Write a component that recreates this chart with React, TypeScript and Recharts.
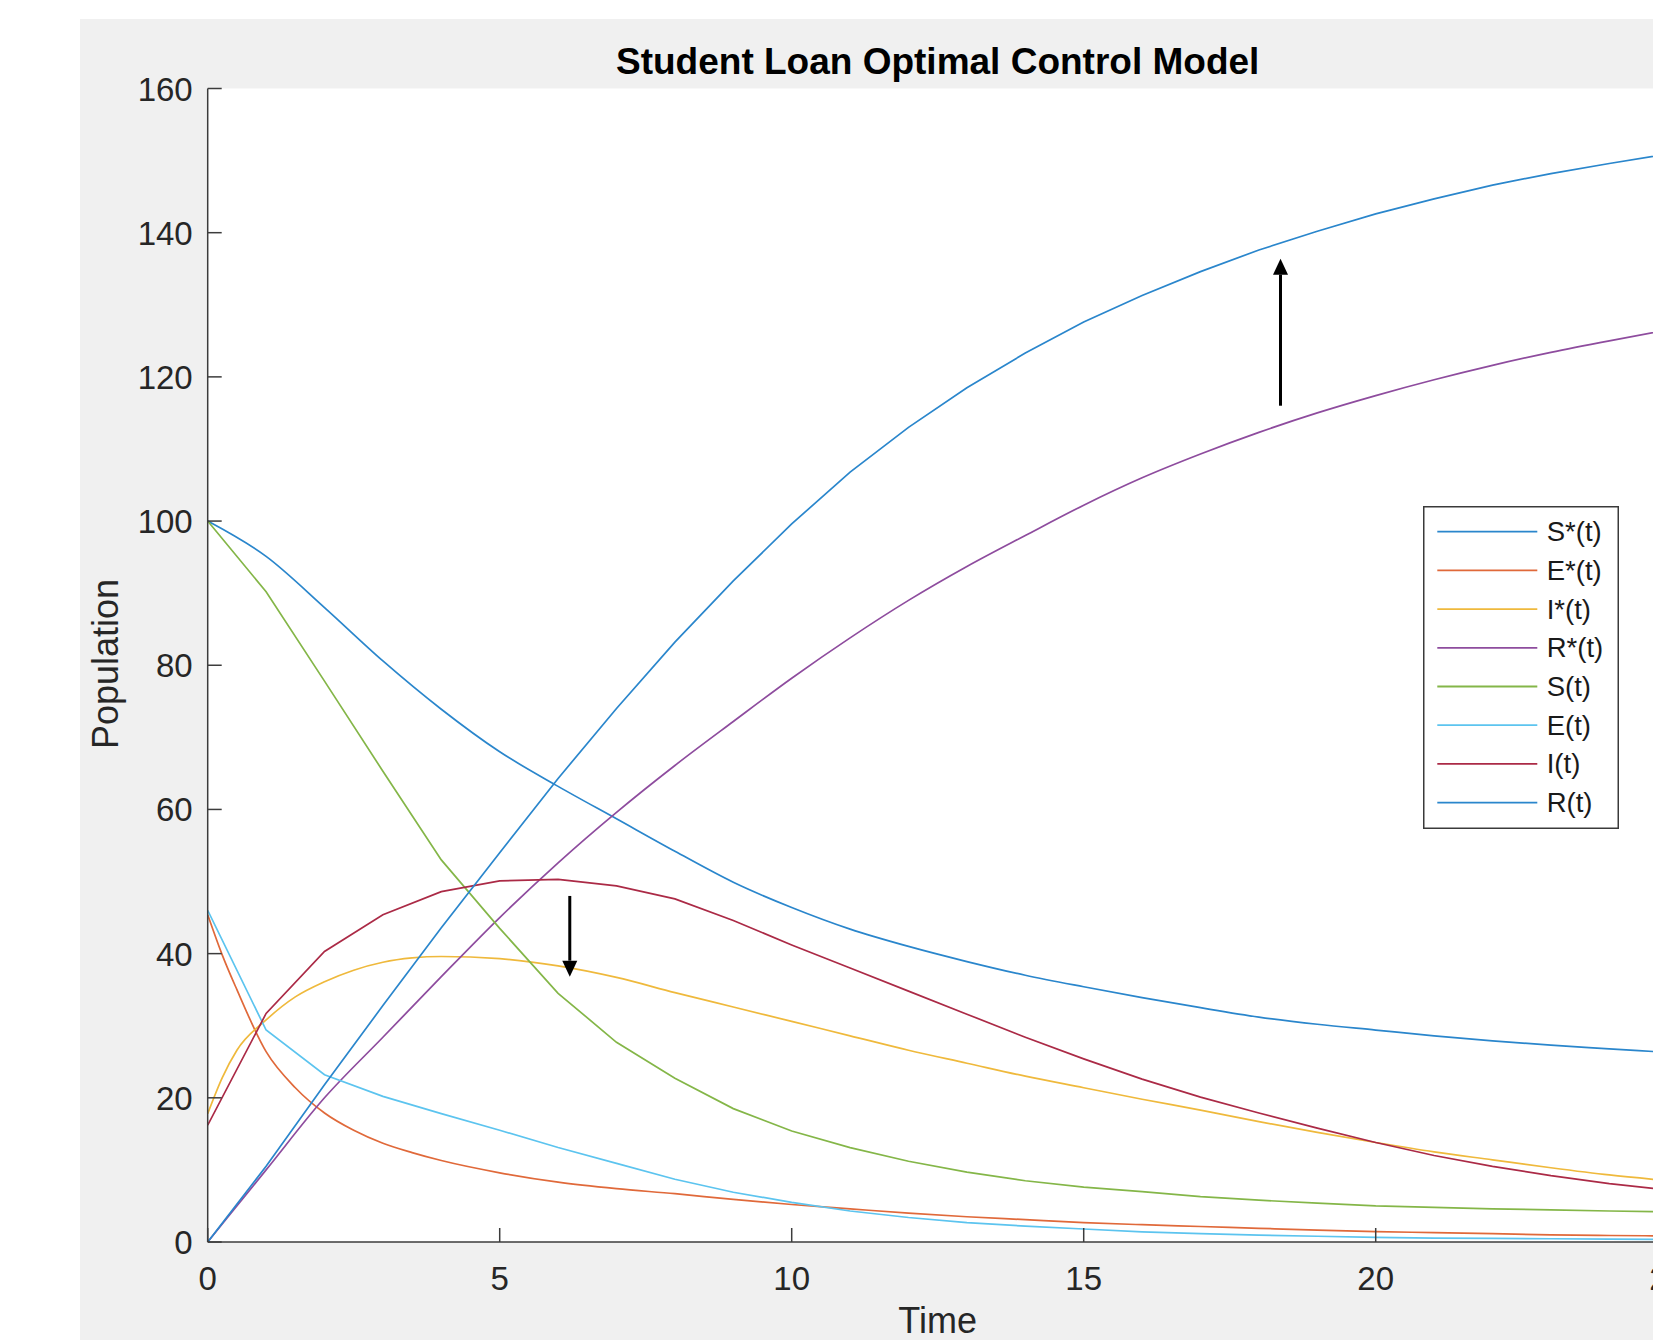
import React from 'react';
import { LineChart, Line, XAxis, YAxis, CartesianGrid, Legend, ReferenceLine } from 'recharts';

const FONT = '"Liberation Sans", Arial, Helvetica, sans-serif';

// time grids
const timeCoarse = [0, 1, 2, 3, 4, 5, 6, 7, 8, 9, 10, 11, 12, 13, 14, 15, 16, 17, 18, 19, 20, 21, 22, 23, 24, 25];
const timeFine = [0, 0.25, 0.5, 1, 1.5, 2, 2.5, 3, 3.5, 4, 5, 6, 7, 8, 9, 10, 11, 12, 13, 14, 15, 16, 17, 18, 19, 20, 21, 22, 23, 24, 25];

// optimal-control series
const sStar = [100, 95.1, 88.0, 80.6, 73.9, 68.0, 63.2, 58.7, 54.2, 49.9, 46.4, 43.4, 41.0, 38.9, 37.0, 35.4, 33.9, 32.5, 31.2, 30.2, 29.4, 28.6, 27.9, 27.3, 26.8, 26.3];
const eStar = [45.4, 39.8, 35.0, 26.4, 21.4, 17.9, 15.5, 13.7, 12.4, 11.3, 9.6, 8.3, 7.4, 6.7, 5.9, 5.2, 4.6, 4.0, 3.5, 3.1, 2.7, 2.4, 2.15, 1.9, 1.65, 1.45, 1.3, 1.15, 1.0, 0.9, 0.85];
const iStar = [17.8, 22.8, 26.6, 30.8, 34.0, 36.1, 37.7, 38.8, 39.4, 39.6, 39.3, 38.3, 36.7, 34.6, 32.6, 30.6, 28.6, 26.6, 24.8, 23.0, 21.4, 19.8, 18.3, 16.7, 15.2, 13.8, 12.5, 11.4, 10.3, 9.3, 8.5];
const rStar = [0, 10.0, 20.0, 28.4, 36.8, 45.0, 52.6, 59.6, 66.1, 72.2, 78.2, 83.8, 89.0, 93.7, 98.0, 102.2, 106.0, 109.3, 112.3, 115.0, 117.4, 119.6, 121.6, 123.4, 125.0, 126.5];

// uncontrolled series
const sBase = [100, 90.2, 77.8, 65.3, 53.0, 43.5, 34.5, 27.7, 22.7, 18.5, 15.4, 13.1, 11.2, 9.7, 8.5, 7.6, 7.0, 6.3, 5.8, 5.4, 5.0, 4.8, 4.6, 4.45, 4.3, 4.2];
const eBase = [46.0, 29.4, 23.2, 20.2, 17.8, 15.5, 13.1, 10.9, 8.7, 6.9, 5.5, 4.3, 3.4, 2.7, 2.2, 1.8, 1.4, 1.15, 0.95, 0.8, 0.65, 0.55, 0.5, 0.45, 0.4, 0.35];
const iBase = [16.2, 31.7, 40.3, 45.4, 48.6, 50.1, 50.3, 49.4, 47.6, 44.6, 41.2, 38.0, 34.8, 31.6, 28.4, 25.4, 22.6, 20.1, 17.9, 15.8, 13.8, 12.0, 10.5, 9.2, 8.1, 7.2];
const rBase = [0, 10.5, 21.8, 32.8, 43.6, 54.0, 64.3, 74.0, 83.2, 91.7, 99.6, 106.8, 113.0, 118.5, 123.3, 127.6, 131.3, 134.6, 137.6, 140.2, 142.6, 144.7, 146.6, 148.2, 149.6, 150.9];

const seriesNames = ['S*(t)', 'E*(t)', 'I*(t)', 'R*(t)', 'S(t)', 'E(t)', 'I(t)', 'R(t)'];
const seriesColors = ['#2a86cc', '#e0693a', '#efb93c', '#8e4c9e', '#84b648', '#5cc4ef', '#ab2a46', '#2a86cc'];

const xTicks = [0, 5, 10, 15, 20, 25];
const yTicks = [0, 20, 40, 60, 80, 100, 120, 140, 160];

// annotation arrows: [t, yTail, yTip]
const arrowUp = [18.37, 116.0, 136.4];
const arrowDown = [6.2, 48.0, 36.8];

const toRows = (ts: number[], vs: number[]) => ts.map((t, i) => ({ t, v: vs[i] }));

const series = [
  { name: seriesNames[0], color: seriesColors[0], data: toRows(timeCoarse, sStar), curve: 'monotone' },
  { name: seriesNames[1], color: seriesColors[1], data: toRows(timeFine, eStar), curve: 'monotone' },
  { name: seriesNames[2], color: seriesColors[2], data: toRows(timeFine, iStar), curve: 'monotone' },
  { name: seriesNames[3], color: seriesColors[3], data: toRows(timeCoarse, rStar), curve: 'monotone' },
  { name: seriesNames[4], color: seriesColors[4], data: toRows(timeCoarse, sBase), curve: 'linear' },
  { name: seriesNames[5], color: seriesColors[5], data: toRows(timeCoarse, eBase), curve: 'linear' },
  { name: seriesNames[6], color: seriesColors[6], data: toRows(timeCoarse, iBase), curve: 'linear' },
  { name: seriesNames[7], color: seriesColors[7], data: toRows(timeCoarse, rBase), curve: 'linear' },
];

const AXIS_COLOR = '#3c3c3c';
const TEXT_COLOR = '#262626';

const YTick = (p: any) => {
  const { x, y, payload } = p;
  const ax = x + 15;
  return (
    <g>
      <line x1={ax} x2={ax + 14} y1={y} y2={y} stroke={AXIS_COLOR} strokeWidth={1.5} />
      <text x={x} y={y} dy={12} textAnchor="end" fontSize={33} fill={TEXT_COLOR} fontFamily={FONT}>
        {payload.value}
      </text>
    </g>
  );
};

const XTick = (p: any) => {
  const { x, y, payload } = p;
  const ay = y - 48;
  return (
    <g>
      <line x1={x} x2={x} y1={ay} y2={ay - 14} stroke={AXIS_COLOR} strokeWidth={1.5} />
      <text x={x} y={y} textAnchor="middle" fontSize={33} fill={TEXT_COLOR} fontFamily={FONT}>
        {payload.value}
      </text>
    </g>
  );
};

const ArrowShape = (p: any) => {
  const { x1, y1, x2, y2 } = p;
  const dx = x2 - x1;
  const dy = y2 - y1;
  const len = Math.hypot(dx, dy) || 1;
  const ux = dx / len;
  const uy = dy / len;
  const hl = 16;
  const hw = 7.5;
  const bx = x2 - ux * hl;
  const by = y2 - uy * hl;
  return (
    <g>
      <line x1={x1} y1={y1} x2={bx} y2={by} stroke="#000" strokeWidth={3} />
      <polygon
        points={`${x2},${y2} ${bx - uy * hw},${by + ux * hw} ${bx + uy * hw},${by - ux * hw}`}
        fill="#000"
      />
    </g>
  );
};

const renderLegend = () => (
  <svg width={196} height={323} style={{ display: 'block' }}>
    <rect x={0.75} y={0.75} width={194.5} height={321.5} fill="#ffffff" stroke="#3a3a3a" strokeWidth={1.5} />
    {series.map((s, i) => {
      const cy = 25.7 + i * 38.7;
      return (
        <g key={s.name}>
          <line x1={14.3} x2={114.3} y1={cy} y2={cy} stroke={s.color} strokeWidth={1.8} />
          <text x={123.7} y={cy} dy={9.5} fontSize={27.5} fill="#1a1a1a" fontFamily={FONT}>
            {s.name}
          </text>
        </g>
      );
    })}
  </svg>
);

export default function App() {
  return (
    <div
      style={{
        position: 'absolute',
        left: 0,
        top: 0,
        width: 1653,
        height: 1340,
        overflow: 'hidden',
        background: '#ffffff',
      }}
    >
      <div style={{ position: 'absolute', left: 80, top: 19, right: 0, bottom: 0, background: '#f0f0f0' }} />
      <div style={{ position: 'absolute', left: 0, top: 0 }}>
        <LineChart width={1700} height={1340} margin={{ top: 88.5, right: 32.3, bottom: 0, left: 0 }}>
          <CartesianGrid horizontal={false} vertical={false} fill="#ffffff" stroke="none" />
          <XAxis
            type="number"
            dataKey="t"
            domain={[0, 25]}
            ticks={xTicks}
            interval={0}
            height={98}
            tickSize={0}
            tickMargin={48}
            tickLine={false}
            axisLine={{ stroke: AXIS_COLOR, strokeWidth: 1.5 }}
            tick={(p: any) => <XTick {...p} />}
            allowDataOverflow
          />
          <YAxis
            type="number"
            domain={[0, 160]}
            ticks={yTicks}
            interval={0}
            width={207.7}
            tickSize={0}
            tickMargin={15}
            tickLine={false}
            axisLine={{ stroke: AXIS_COLOR, strokeWidth: 1.5 }}
            tick={(p: any) => <YTick {...p} />}
            allowDataOverflow
          />
          {series.map((s) => (
            <Line
              key={s.name}
              name={s.name}
              data={s.data}
              dataKey="v"
              type={s.curve as any}
              stroke={s.color}
              strokeWidth={1.7}
              dot={false}
              activeDot={false}
              isAnimationActive={false}
            />
          ))}
          <ReferenceLine
            segment={[{ x: arrowUp[0], y: arrowUp[1] }, { x: arrowUp[0], y: arrowUp[2] }]}
            shape={ArrowShape}
            ifOverflow="visible"
          />
          <ReferenceLine
            segment={[{ x: arrowDown[0], y: arrowDown[1] }, { x: arrowDown[0], y: arrowDown[2] }]}
            shape={ArrowShape}
            ifOverflow="visible"
          />
          <Legend
            layout="horizontal"
            verticalAlign="middle"
            align="center"
            content={renderLegend}
            wrapperStyle={{ position: 'absolute', left: 1423, top: 506, width: 196, height: 323 }}
          />
        </LineChart>
      </div>
      <svg
        width={1653}
        height={1340}
        style={{ position: 'absolute', left: 0, top: 0, pointerEvents: 'none' }}
      >
        <text x={937.7} y={74} textAnchor="middle" fontSize={37} fontWeight="bold" fill="#000" fontFamily={FONT}>
          Student Loan Optimal Control Model
        </text>
        <text x={937.7} y={1333} textAnchor="middle" fontSize={36} fill={TEXT_COLOR} fontFamily={FONT}>
          Time
        </text>
        <text
          x={0}
          y={0}
          transform="translate(118,664) rotate(-90)"
          textAnchor="middle"
          fontSize={36}
          fill={TEXT_COLOR}
          fontFamily={FONT}
        >
          Population
        </text>
      </svg>
    </div>
  );
}
